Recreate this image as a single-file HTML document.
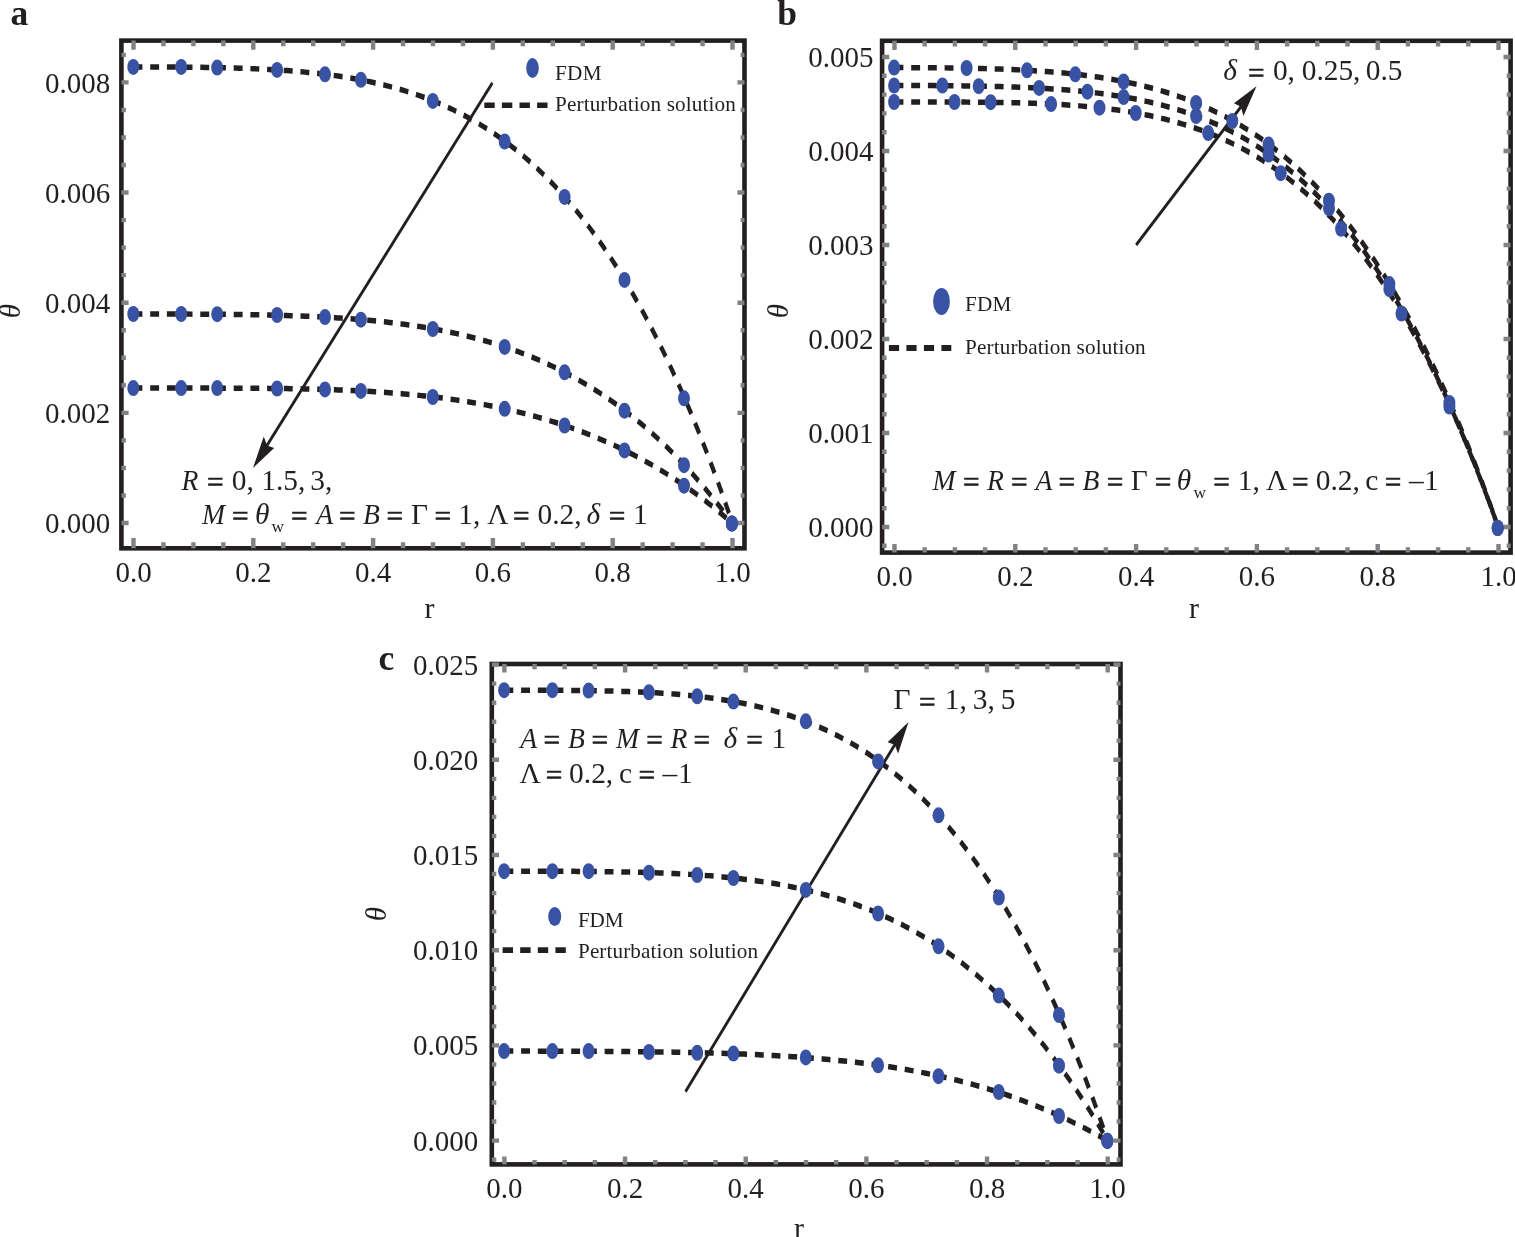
<!DOCTYPE html>
<html lang="en">
<head>
<meta charset="utf-8">
<title>Figure</title>
<style>
html,body{margin:0;padding:0;background:#fff;}
body{width:1515px;height:1237px;overflow:hidden;}
svg{display:block;}
svg text{font-family:'Liberation Serif', serif;fill:#231f20;white-space:pre;}
</style>
</head>
<body>
<svg width="1515" height="1237" viewBox="0 0 1515 1237">
<rect width="1515" height="1237" fill="#fff"/>
<rect x="121.4" y="40.6" width="623.10" height="507.70" fill="none" stroke="#231f20" stroke-width="4.6"/>
<g transform="scale(1 1.333)">
<path d="M133.50,50.19 L136.51,50.19 L139.52,50.19 L142.53,50.19 L145.54,50.20 L148.55,50.20 L151.56,50.21 L154.57,50.21 L157.58,50.22 L160.59,50.23 L163.60,50.24 L166.61,50.26 L169.62,50.27 L172.63,50.28 L175.64,50.30 L178.65,50.32 L181.66,50.34 L184.67,50.36 L187.68,50.38 L190.69,50.41 L193.70,50.44 L196.71,50.46 L199.72,50.50 L202.73,50.53 L205.74,50.56 L208.75,50.60 L211.76,50.64 L214.77,50.69 L217.78,50.73 L220.79,50.78 L223.80,50.84 L226.81,50.89 L229.82,50.95 L232.83,51.02 L235.84,51.08 L238.85,51.15 L241.86,51.23 L244.87,51.31 L247.88,51.39 L250.89,51.48 L253.90,51.57 L256.91,51.67 L259.92,51.77 L262.93,51.88 L265.94,52.00 L268.95,52.12 L271.96,52.24 L274.97,52.37 L277.98,52.51 L280.99,52.66 L284.00,52.81 L287.01,52.97 L290.02,53.14 L293.03,53.31 L296.04,53.50 L299.05,53.69 L302.06,53.89 L305.07,54.10 L308.08,54.32 L311.09,54.54 L314.10,54.78 L317.11,55.03 L320.12,55.28 L323.13,55.55 L326.14,55.83 L329.15,56.12 L332.16,56.42 L335.17,56.73 L338.18,57.06 L341.19,57.40 L344.20,57.75 L347.21,58.11 L350.22,58.49 L353.23,58.88 L356.24,59.28 L359.25,59.70 L362.26,60.14 L365.27,60.59 L368.28,61.06 L371.29,61.54 L374.30,62.04 L377.31,62.55 L380.32,63.08 L383.33,63.63 L386.34,64.20 L389.35,64.79 L392.36,65.39 L395.37,66.02 L398.38,66.66 L401.39,67.33 L404.40,68.01 L407.41,68.72 L410.42,69.45 L413.43,70.20 L416.44,70.97 L419.45,71.77 L422.46,72.58 L425.47,73.43 L428.48,74.29 L431.49,75.18 L434.51,76.10 L437.52,77.04 L440.53,78.01 L443.54,79.01 L446.55,80.03 L449.56,81.08 L452.57,82.16 L455.58,83.27 L458.59,84.40 L461.60,85.57 L464.61,86.77 L467.62,88.00 L470.63,89.25 L473.64,90.55 L476.65,91.87 L479.66,93.23 L482.67,94.62 L485.68,96.04 L488.69,97.50 L491.70,99.00 L494.71,100.53 L497.72,102.10 L500.73,103.70 L503.74,105.35 L506.75,107.03 L509.76,108.75 L512.77,110.51 L515.78,112.31 L518.79,114.15 L521.80,116.03 L524.81,117.95 L527.82,119.92 L530.83,121.93 L533.84,123.98 L536.85,126.08 L539.86,128.23 L542.87,130.42 L545.88,132.65 L548.89,134.94 L551.90,137.27 L554.91,139.65 L557.92,142.08 L560.93,144.56 L563.94,147.09 L566.95,149.67 L569.96,152.31 L572.97,154.99 L575.98,157.73 L578.99,160.53 L582.00,163.37 L585.01,166.28 L588.02,169.24 L591.03,172.26 L594.04,175.33 L597.05,178.47 L600.06,181.66 L603.07,184.91 L606.08,188.23 L609.09,191.60 L612.10,195.04 L615.11,198.54 L618.12,202.11 L621.13,205.74 L624.14,209.43 L627.15,213.19 L630.16,217.02 L633.17,220.91 L636.18,224.88 L639.19,228.91 L642.20,233.01 L645.21,237.18 L648.22,241.43 L651.23,245.75 L654.24,250.14 L657.25,254.60 L660.26,259.14 L663.27,263.76 L666.28,268.45 L669.29,273.22 L672.30,278.06 L675.31,282.99 L678.32,287.99 L681.33,293.08 L684.34,298.25 L687.35,303.50 L690.36,308.83 L693.37,314.25 L696.38,319.75 L699.39,325.34 L702.40,331.02 L705.41,336.78 L708.42,342.63 L711.43,348.57 L714.44,354.60 L717.45,360.72 L720.46,366.93 L723.47,373.24 L726.48,379.64 L729.49,386.13 L732.50,392.72" fill="none" stroke="#231f20" stroke-width="4.12" stroke-dasharray="8.9 7.8" stroke-dashoffset="0"/>
<path d="M133.50,235.56 L136.51,235.56 L139.52,235.56 L142.53,235.56 L145.54,235.56 L148.55,235.56 L151.56,235.57 L154.57,235.57 L157.58,235.57 L160.59,235.58 L163.60,235.58 L166.61,235.59 L169.62,235.59 L172.63,235.60 L175.64,235.60 L178.65,235.61 L181.66,235.62 L184.67,235.63 L187.68,235.64 L190.69,235.65 L193.70,235.66 L196.71,235.67 L199.72,235.68 L202.73,235.69 L205.74,235.71 L208.75,235.72 L211.76,235.74 L214.77,235.76 L217.78,235.78 L220.79,235.80 L223.80,235.82 L226.81,235.84 L229.82,235.87 L232.83,235.89 L235.84,235.92 L238.85,235.95 L241.86,235.98 L244.87,236.01 L247.88,236.05 L250.89,236.09 L253.90,236.12 L256.91,236.16 L259.92,236.21 L262.93,236.25 L265.94,236.30 L268.95,236.35 L271.96,236.41 L274.97,236.46 L277.98,236.52 L280.99,236.58 L284.00,236.65 L287.01,236.72 L290.02,236.79 L293.03,236.86 L296.04,236.94 L299.05,237.02 L302.06,237.11 L305.07,237.20 L308.08,237.29 L311.09,237.39 L314.10,237.49 L317.11,237.60 L320.12,237.71 L323.13,237.82 L326.14,237.94 L329.15,238.07 L332.16,238.20 L335.17,238.34 L338.18,238.48 L341.19,238.62 L344.20,238.78 L347.21,238.93 L350.22,239.10 L353.23,239.27 L356.24,239.45 L359.25,239.63 L362.26,239.82 L365.27,240.02 L368.28,240.22 L371.29,240.43 L374.30,240.65 L377.31,240.88 L380.32,241.11 L383.33,241.35 L386.34,241.60 L389.35,241.86 L392.36,242.13 L395.37,242.41 L398.38,242.69 L401.39,242.99 L404.40,243.29 L407.41,243.60 L410.42,243.92 L413.43,244.26 L416.44,244.60 L419.45,244.95 L422.46,245.32 L425.47,245.69 L428.48,246.08 L431.49,246.47 L434.51,246.88 L437.52,247.30 L440.53,247.74 L443.54,248.18 L446.55,248.64 L449.56,249.11 L452.57,249.59 L455.58,250.09 L458.59,250.60 L461.60,251.12 L464.61,251.66 L467.62,252.21 L470.63,252.77 L473.64,253.36 L476.65,253.95 L479.66,254.56 L482.67,255.19 L485.68,255.83 L488.69,256.49 L491.70,257.16 L494.71,257.86 L497.72,258.56 L500.73,259.29 L503.74,260.03 L506.75,260.80 L509.76,261.57 L512.77,262.37 L515.78,263.19 L518.79,264.02 L521.80,264.88 L524.81,265.75 L527.82,266.65 L530.83,267.56 L533.84,268.50 L536.85,269.45 L539.86,270.43 L542.87,271.43 L545.88,272.45 L548.89,273.49 L551.90,274.55 L554.91,275.64 L557.92,276.75 L560.93,277.88 L563.94,279.04 L566.95,280.22 L569.96,281.43 L572.97,282.66 L575.98,283.91 L578.99,285.20 L582.00,286.50 L585.01,287.84 L588.02,289.19 L591.03,290.58 L594.04,291.99 L597.05,293.44 L600.06,294.90 L603.07,296.40 L606.08,297.93 L609.09,299.48 L612.10,301.07 L615.11,302.68 L618.12,304.32 L621.13,306.00 L624.14,307.70 L627.15,309.44 L630.16,311.20 L633.17,313.00 L636.18,314.83 L639.19,316.70 L642.20,318.59 L645.21,320.53 L648.22,322.49 L651.23,324.49 L654.24,326.52 L657.25,328.59 L660.26,330.69 L663.27,332.83 L666.28,335.00 L669.29,337.21 L672.30,339.46 L675.31,341.75 L678.32,344.07 L681.33,346.43 L684.34,348.83 L687.35,351.26 L690.36,353.74 L693.37,356.25 L696.38,358.81 L699.39,361.41 L702.40,364.04 L705.41,366.72 L708.42,369.44 L711.43,372.20 L714.44,375.00 L717.45,377.85 L720.46,380.73 L723.47,383.67 L726.48,386.64 L729.49,389.66 L732.50,392.72" fill="none" stroke="#231f20" stroke-width="4.12" stroke-dasharray="8.9 7.8" stroke-dashoffset="0"/>
<path d="M133.50,291.15 L136.51,291.15 L139.52,291.15 L142.53,291.15 L145.54,291.15 L148.55,291.15 L151.56,291.15 L154.57,291.15 L157.58,291.15 L160.59,291.14 L163.60,291.14 L166.61,291.14 L169.62,291.14 L172.63,291.14 L175.64,291.14 L178.65,291.14 L181.66,291.14 L184.67,291.14 L187.68,291.14 L190.69,291.14 L193.70,291.14 L196.71,291.14 L199.72,291.14 L202.73,291.14 L205.74,291.15 L208.75,291.15 L211.76,291.15 L214.77,291.15 L217.78,291.16 L220.79,291.16 L223.80,291.17 L226.81,291.17 L229.82,291.18 L232.83,291.19 L235.84,291.19 L238.85,291.20 L241.86,291.21 L244.87,291.23 L247.88,291.24 L250.89,291.25 L253.90,291.27 L256.91,291.28 L259.92,291.30 L262.93,291.32 L265.94,291.34 L268.95,291.36 L271.96,291.38 L274.97,291.41 L277.98,291.44 L280.99,291.47 L284.00,291.50 L287.01,291.53 L290.02,291.57 L293.03,291.60 L296.04,291.64 L299.05,291.69 L302.06,291.73 L305.07,291.78 L308.08,291.83 L311.09,291.88 L314.10,291.94 L317.11,292.00 L320.12,292.06 L323.13,292.13 L326.14,292.20 L329.15,292.27 L332.16,292.35 L335.17,292.43 L338.18,292.51 L341.19,292.60 L344.20,292.69 L347.21,292.78 L350.22,292.88 L353.23,292.99 L356.24,293.09 L359.25,293.21 L362.26,293.32 L365.27,293.45 L368.28,293.57 L371.29,293.70 L374.30,293.84 L377.31,293.98 L380.32,294.13 L383.33,294.29 L386.34,294.44 L389.35,294.61 L392.36,294.78 L395.37,294.96 L398.38,295.14 L401.39,295.33 L404.40,295.52 L407.41,295.73 L410.42,295.93 L413.43,296.15 L416.44,296.37 L419.45,296.60 L422.46,296.84 L425.47,297.08 L428.48,297.34 L431.49,297.60 L434.51,297.86 L437.52,298.14 L440.53,298.42 L443.54,298.71 L446.55,299.01 L449.56,299.32 L452.57,299.64 L455.58,299.97 L458.59,300.30 L461.60,300.65 L464.61,301.00 L467.62,301.37 L470.63,301.74 L473.64,302.12 L476.65,302.51 L479.66,302.92 L482.67,303.33 L485.68,303.75 L488.69,304.19 L491.70,304.63 L494.71,305.09 L497.72,305.56 L500.73,306.04 L503.74,306.53 L506.75,307.03 L509.76,307.54 L512.77,308.07 L515.78,308.61 L518.79,309.16 L521.80,309.72 L524.81,310.29 L527.82,310.88 L530.83,311.48 L533.84,312.10 L536.85,312.73 L539.86,313.37 L542.87,314.02 L545.88,314.69 L548.89,315.38 L551.90,316.07 L554.91,316.79 L557.92,317.51 L560.93,318.26 L563.94,319.01 L566.95,319.78 L569.96,320.57 L572.97,321.38 L575.98,322.20 L578.99,323.03 L582.00,323.89 L585.01,324.75 L588.02,325.64 L591.03,326.54 L594.04,327.46 L597.05,328.40 L600.06,329.36 L603.07,330.33 L606.08,331.32 L609.09,332.33 L612.10,333.36 L615.11,334.40 L618.12,335.47 L621.13,336.55 L624.14,337.66 L627.15,338.78 L630.16,339.93 L633.17,341.09 L636.18,342.28 L639.19,343.48 L642.20,344.71 L645.21,345.96 L648.22,347.23 L651.23,348.52 L654.24,349.83 L657.25,351.17 L660.26,352.53 L663.27,353.91 L666.28,355.31 L669.29,356.74 L672.30,358.19 L675.31,359.67 L678.32,361.17 L681.33,362.70 L684.34,364.25 L687.35,365.82 L690.36,367.42 L693.37,369.05 L696.38,370.70 L699.39,372.38 L702.40,374.09 L705.41,375.83 L708.42,377.59 L711.43,379.38 L714.44,381.20 L717.45,383.04 L720.46,384.92 L723.47,386.83 L726.48,388.76 L729.49,390.73 L732.50,392.72" fill="none" stroke="#231f20" stroke-width="4.12" stroke-dasharray="8.9 7.8" stroke-dashoffset="0"/>
</g>
<path d="M163.45,40.6 v5.6 M163.45,548.3 v-6.0 M193.40,40.6 v5.6 M193.40,548.3 v-6.0 M223.35,40.6 v5.6 M223.35,548.3 v-6.0 M283.25,40.6 v5.6 M283.25,548.3 v-6.0 M313.20,40.6 v5.6 M313.20,548.3 v-6.0 M343.15,40.6 v5.6 M343.15,548.3 v-6.0 M403.05,40.6 v5.6 M403.05,548.3 v-6.0 M433.00,40.6 v5.6 M433.00,548.3 v-6.0 M462.95,40.6 v5.6 M462.95,548.3 v-6.0 M522.85,40.6 v5.6 M522.85,548.3 v-6.0 M552.80,40.6 v5.6 M552.80,548.3 v-6.0 M582.75,40.6 v5.6 M582.75,548.3 v-6.0 M642.65,40.6 v5.6 M642.65,548.3 v-6.0 M672.60,40.6 v5.6 M672.60,548.3 v-6.0 M702.55,40.6 v5.6 M702.55,548.3 v-6.0 M133.50,40.6 v9.2 M133.50,548.3 v-10.2 M253.30,40.6 v9.2 M253.30,548.3 v-10.2 M373.10,40.6 v9.2 M373.10,548.3 v-10.2 M492.90,40.6 v9.2 M492.90,548.3 v-10.2 M612.70,40.6 v9.2 M612.70,548.3 v-10.2 M732.50,40.6 v9.2 M732.50,548.3 v-10.2 M121.4,495.46 h4.5 M744.5,495.46 h-3.9 M121.4,467.93 h4.5 M744.5,467.93 h-3.9 M121.4,440.39 h4.5 M744.5,440.39 h-3.9 M121.4,385.31 h4.5 M744.5,385.31 h-3.9 M121.4,357.77 h4.5 M744.5,357.77 h-3.9 M121.4,330.24 h4.5 M744.5,330.24 h-3.9 M121.4,275.16 h4.5 M744.5,275.16 h-3.9 M121.4,247.62 h4.5 M744.5,247.62 h-3.9 M121.4,220.09 h4.5 M744.5,220.09 h-3.9 M121.4,165.01 h4.5 M744.5,165.01 h-3.9 M121.4,137.47 h4.5 M744.5,137.47 h-3.9 M121.4,109.94 h4.5 M744.5,109.94 h-3.9 M121.4,54.86 h4.5 M744.5,54.86 h-3.9 M121.4,523.00 h7.2 M744.5,523.00 h-7.1 M121.4,412.85 h7.2 M744.5,412.85 h-7.1 M121.4,302.70 h7.2 M744.5,302.70 h-7.1 M121.4,192.55 h7.2 M744.5,192.55 h-7.1 M121.4,82.40 h7.2 M744.5,82.40 h-7.1" stroke="#808285" stroke-width="4.4" fill="none"/>
<path d="M484.3,105.2 H547.8" stroke="#231f20" stroke-width="5.6" stroke-dasharray="10.4 7.2" fill="none"/>
<g transform="scale(1 1.333)">
<line x1="492.40" y1="62.12" x2="266.40" y2="334.92" stroke="#231f20" stroke-width="2.6"/>
<path d="M253.00,351.09 L274.15,336.14 L267.04,334.15 L263.75,327.53 Z" fill="#231f20"/>
<circle cx="133.3" cy="50.19" r="6.0" fill="#3953a4"/>
<circle cx="181.2" cy="50.19" r="6.0" fill="#3953a4"/>
<circle cx="217.2" cy="50.71" r="6.0" fill="#3953a4"/>
<circle cx="277.1" cy="52.44" r="6.0" fill="#3953a4"/>
<circle cx="325.0" cy="55.74" r="6.0" fill="#3953a4"/>
<circle cx="360.9" cy="59.86" r="6.0" fill="#3953a4"/>
<circle cx="432.8" cy="75.69" r="6.0" fill="#3953a4"/>
<circle cx="504.7" cy="106.15" r="6.0" fill="#3953a4"/>
<circle cx="564.6" cy="147.71" r="6.0" fill="#3953a4"/>
<circle cx="624.5" cy="209.98" r="6.0" fill="#3953a4"/>
<circle cx="684.0" cy="298.80" r="6.0" fill="#3953a4"/>
<circle cx="731.9" cy="392.72" r="6.0" fill="#3953a4"/>
<circle cx="133.3" cy="235.56" r="6.0" fill="#3953a4"/>
<circle cx="181.2" cy="235.56" r="6.0" fill="#3953a4"/>
<circle cx="217.2" cy="235.71" r="6.0" fill="#3953a4"/>
<circle cx="277.1" cy="236.31" r="6.0" fill="#3953a4"/>
<circle cx="325.0" cy="237.88" r="6.0" fill="#3953a4"/>
<circle cx="360.9" cy="239.83" r="6.0" fill="#3953a4"/>
<circle cx="432.8" cy="246.81" r="6.0" fill="#3953a4"/>
<circle cx="504.7" cy="260.24" r="6.0" fill="#3953a4"/>
<circle cx="564.6" cy="279.29" r="6.0" fill="#3953a4"/>
<circle cx="624.5" cy="308.10" r="6.0" fill="#3953a4"/>
<circle cx="684.0" cy="348.99" r="6.0" fill="#3953a4"/>
<circle cx="731.9" cy="392.72" r="6.0" fill="#3953a4"/>
<circle cx="133.3" cy="291.15" r="6.0" fill="#3953a4"/>
<circle cx="181.2" cy="291.15" r="6.0" fill="#3953a4"/>
<circle cx="217.2" cy="291.15" r="6.0" fill="#3953a4"/>
<circle cx="277.1" cy="291.45" r="6.0" fill="#3953a4"/>
<circle cx="325.0" cy="292.12" r="6.0" fill="#3953a4"/>
<circle cx="360.9" cy="293.25" r="6.0" fill="#3953a4"/>
<circle cx="432.8" cy="297.82" r="6.0" fill="#3953a4"/>
<circle cx="504.7" cy="306.68" r="6.0" fill="#3953a4"/>
<circle cx="564.6" cy="319.20" r="6.0" fill="#3953a4"/>
<circle cx="624.5" cy="337.88" r="6.0" fill="#3953a4"/>
<circle cx="684.0" cy="364.37" r="6.0" fill="#3953a4"/>
<circle cx="731.9" cy="392.72" r="6.0" fill="#3953a4"/>
</g>
<ellipse cx="532.5" cy="68" rx="6.3" ry="10" fill="#3953a4"/>
<text x="555.0" y="80.2" font-size="21.2" text-anchor="start" textLength="46.6">FDM</text>
<text x="555.0" y="110.9" font-size="21.2" text-anchor="start" textLength="180.8">Perturbation solution</text>
<text x="10.6" y="25.1" font-size="35.5" text-anchor="start" font-weight="bold">a</text>
<text x="110.3" y="533.2" font-size="29.0" text-anchor="end" >0.000</text>
<text x="110.3" y="423.1" font-size="29.0" text-anchor="end" >0.002</text>
<text x="110.3" y="312.9" font-size="29.0" text-anchor="end" >0.004</text>
<text x="110.3" y="202.8" font-size="29.0" text-anchor="end" >0.006</text>
<text x="110.3" y="92.6" font-size="29.0" text-anchor="end" >0.008</text>
<text x="133.5" y="581.7" font-size="29.0" text-anchor="middle" >0.0</text>
<text x="253.3" y="581.7" font-size="29.0" text-anchor="middle" >0.2</text>
<text x="373.1" y="581.7" font-size="29.0" text-anchor="middle" >0.4</text>
<text x="492.9" y="581.7" font-size="29.0" text-anchor="middle" >0.6</text>
<text x="612.7" y="581.7" font-size="29.0" text-anchor="middle" >0.8</text>
<text x="732.5" y="581.7" font-size="29.0" text-anchor="middle" >1.0</text>
<text x="429.5" y="617.9" font-size="30" text-anchor="middle" >r</text>
<text transform="translate(20,311) rotate(-90)" font-size="29" text-anchor="middle" font-style="italic">θ</text>
<text font-size="29.4"><tspan x="181.4" y="489.8" font-style="italic" textLength="16.88" lengthAdjust="spacingAndGlyphs">R</tspan><tspan x="206.9" y="492.3" stroke="#231f20" stroke-width="0.6">=</tspan><tspan x="231.8" y="489.8">0,</tspan><tspan x="261.3" y="489.8">1.5,</tspan><tspan x="310.2" y="489.8">3,</tspan></text>
<text font-size="29.4"><tspan x="202.0" y="523.8" font-style="italic" textLength="23.02" lengthAdjust="spacingAndGlyphs">M</tspan><tspan x="231.9" y="526.3" stroke="#231f20" stroke-width="0.6">=</tspan><tspan x="255.1" y="523.8" font-style="italic">θ</tspan><tspan x="271.4" y="531.7" font-size="17.4">w</tspan><tspan x="290.9" y="526.3" stroke="#231f20" stroke-width="0.6">=</tspan><tspan x="316.2" y="523.8" font-style="italic" textLength="16.88" lengthAdjust="spacingAndGlyphs">A</tspan><tspan x="338.9" y="526.3" stroke="#231f20" stroke-width="0.6">=</tspan><tspan x="362.9" y="523.8" font-style="italic" textLength="16.88" lengthAdjust="spacingAndGlyphs">B</tspan><tspan x="386.4" y="526.3" stroke="#231f20" stroke-width="0.6">=</tspan><tspan x="410.9" y="523.8">Γ</tspan><tspan x="434.5" y="526.3" stroke="#231f20" stroke-width="0.6">=</tspan><tspan x="458.3" y="523.8">1,</tspan><tspan x="487.3" y="523.8">Λ</tspan><tspan x="512.9" y="526.3" stroke="#231f20" stroke-width="0.6">=</tspan><tspan x="537.5" y="523.8">0.2,</tspan><tspan x="586.5" y="523.8" font-style="italic">δ</tspan><tspan x="608.8" y="526.3" stroke="#231f20" stroke-width="0.6">=</tspan><tspan x="632.9" y="523.8">1</tspan></text>
<rect x="882.1" y="40.8" width="628.50" height="511.80" fill="none" stroke="#231f20" stroke-width="4.6"/>
<g transform="scale(1 1.333)">
<path d="M894.50,50.71 L897.54,50.71 L900.57,50.72 L903.61,50.72 L906.64,50.72 L909.68,50.73 L912.71,50.74 L915.75,50.75 L918.78,50.76 L921.82,50.77 L924.85,50.78 L927.89,50.80 L930.92,50.81 L933.96,50.83 L936.99,50.85 L940.03,50.87 L943.06,50.90 L946.10,50.92 L949.13,50.95 L952.17,50.98 L955.20,51.01 L958.24,51.05 L961.27,51.08 L964.31,51.12 L967.34,51.17 L970.38,51.21 L973.41,51.26 L976.45,51.31 L979.48,51.36 L982.52,51.42 L985.56,51.48 L988.59,51.54 L991.63,51.61 L994.66,51.68 L997.70,51.76 L1000.73,51.84 L1003.77,51.92 L1006.80,52.01 L1009.84,52.10 L1012.87,52.20 L1015.91,52.31 L1018.94,52.42 L1021.98,52.53 L1025.01,52.65 L1028.05,52.77 L1031.08,52.91 L1034.12,53.04 L1037.15,53.19 L1040.19,53.34 L1043.22,53.50 L1046.26,53.66 L1049.29,53.84 L1052.33,54.02 L1055.36,54.21 L1058.40,54.40 L1061.43,54.61 L1064.47,54.82 L1067.51,55.05 L1070.54,55.28 L1073.58,55.52 L1076.61,55.77 L1079.65,56.04 L1082.68,56.31 L1085.72,56.59 L1088.75,56.89 L1091.79,57.19 L1094.82,57.51 L1097.86,57.84 L1100.89,58.18 L1103.93,58.54 L1106.96,58.91 L1110.00,59.29 L1113.03,59.68 L1116.07,60.09 L1119.10,60.52 L1122.14,60.96 L1125.17,61.41 L1128.21,61.88 L1131.24,62.36 L1134.28,62.87 L1137.31,63.38 L1140.35,63.92 L1143.38,64.47 L1146.42,65.04 L1149.45,65.63 L1152.49,66.24 L1155.53,66.87 L1158.56,67.51 L1161.60,68.18 L1164.63,68.86 L1167.67,69.57 L1170.70,70.30 L1173.74,71.05 L1176.77,71.82 L1179.81,72.62 L1182.84,73.43 L1185.88,74.28 L1188.91,75.14 L1191.95,76.03 L1194.98,76.95 L1198.02,77.89 L1201.05,78.85 L1204.09,79.84 L1207.12,80.86 L1210.16,81.91 L1213.19,82.98 L1216.23,84.09 L1219.26,85.22 L1222.30,86.38 L1225.33,87.57 L1228.37,88.79 L1231.40,90.04 L1234.44,91.33 L1237.47,92.65 L1240.51,93.99 L1243.55,95.38 L1246.58,96.79 L1249.62,98.24 L1252.65,99.73 L1255.69,101.25 L1258.72,102.80 L1261.76,104.40 L1264.79,106.03 L1267.83,107.70 L1270.86,109.40 L1273.90,111.15 L1276.93,112.93 L1279.97,114.76 L1283.00,116.62 L1286.04,118.53 L1289.07,120.48 L1292.11,122.47 L1295.14,124.51 L1298.18,126.59 L1301.21,128.71 L1304.25,130.88 L1307.28,133.09 L1310.32,135.35 L1313.35,137.66 L1316.39,140.02 L1319.42,142.42 L1322.46,144.88 L1325.49,147.38 L1328.53,149.93 L1331.57,152.54 L1334.60,155.19 L1337.64,157.90 L1340.67,160.67 L1343.71,163.48 L1346.74,166.35 L1349.78,169.28 L1352.81,172.26 L1355.85,175.30 L1358.88,178.40 L1361.92,181.55 L1364.95,184.77 L1367.99,188.04 L1371.02,191.37 L1374.06,194.77 L1377.09,198.23 L1380.13,201.74 L1383.16,205.33 L1386.20,208.97 L1389.23,212.68 L1392.27,216.46 L1395.30,220.31 L1398.34,224.22 L1401.37,228.19 L1404.41,232.24 L1407.44,236.36 L1410.48,240.54 L1413.52,244.80 L1416.55,249.13 L1419.59,253.53 L1422.62,258.01 L1425.66,262.56 L1428.69,267.18 L1431.73,271.88 L1434.76,276.66 L1437.80,281.51 L1440.83,286.44 L1443.87,291.45 L1446.90,296.54 L1449.94,301.72 L1452.97,306.97 L1456.01,312.30 L1459.04,317.72 L1462.08,323.22 L1465.11,328.81 L1468.15,334.48 L1471.18,340.24 L1474.22,346.09 L1477.25,352.02 L1480.29,358.05 L1483.32,364.16 L1486.36,370.36 L1489.39,376.66 L1492.43,383.04 L1495.46,389.52 L1498.50,396.10" fill="none" stroke="#231f20" stroke-width="4.12" stroke-dasharray="8.9 7.8" stroke-dashoffset="0"/>
<path d="M894.50,64.14 L897.54,64.14 L900.57,64.14 L903.61,64.15 L906.64,64.15 L909.68,64.15 L912.71,64.16 L915.75,64.16 L918.78,64.17 L921.82,64.18 L924.85,64.19 L927.89,64.20 L930.92,64.21 L933.96,64.22 L936.99,64.24 L940.03,64.25 L943.06,64.27 L946.10,64.29 L949.13,64.31 L952.17,64.33 L955.20,64.35 L958.24,64.38 L961.27,64.40 L964.31,64.43 L967.34,64.46 L970.38,64.49 L973.41,64.53 L976.45,64.57 L979.48,64.61 L982.52,64.65 L985.56,64.69 L988.59,64.74 L991.63,64.79 L994.66,64.85 L997.70,64.90 L1000.73,64.96 L1003.77,65.03 L1006.80,65.10 L1009.84,65.17 L1012.87,65.24 L1015.91,65.32 L1018.94,65.41 L1021.98,65.50 L1025.01,65.59 L1028.05,65.69 L1031.08,65.79 L1034.12,65.90 L1037.15,66.02 L1040.19,66.14 L1043.22,66.27 L1046.26,66.40 L1049.29,66.54 L1052.33,66.68 L1055.36,66.84 L1058.40,67.00 L1061.43,67.16 L1064.47,67.34 L1067.51,67.52 L1070.54,67.71 L1073.58,67.91 L1076.61,68.12 L1079.65,68.34 L1082.68,68.57 L1085.72,68.80 L1088.75,69.05 L1091.79,69.31 L1094.82,69.57 L1097.86,69.85 L1100.89,70.14 L1103.93,70.44 L1106.96,70.75 L1110.00,71.08 L1113.03,71.41 L1116.07,71.76 L1119.10,72.12 L1122.14,72.50 L1125.17,72.89 L1128.21,73.30 L1131.24,73.72 L1134.28,74.15 L1137.31,74.60 L1140.35,75.07 L1143.38,75.55 L1146.42,76.05 L1149.45,76.56 L1152.49,77.09 L1155.53,77.65 L1158.56,78.22 L1161.60,78.80 L1164.63,79.41 L1167.67,80.04 L1170.70,80.69 L1173.74,81.35 L1176.77,82.04 L1179.81,82.75 L1182.84,83.49 L1185.88,84.24 L1188.91,85.02 L1191.95,85.82 L1194.98,86.65 L1198.02,87.50 L1201.05,88.38 L1204.09,89.28 L1207.12,90.21 L1210.16,91.16 L1213.19,92.14 L1216.23,93.15 L1219.26,94.19 L1222.30,95.25 L1225.33,96.35 L1228.37,97.48 L1231.40,98.63 L1234.44,99.82 L1237.47,101.04 L1240.51,102.29 L1243.55,103.58 L1246.58,104.90 L1249.62,106.25 L1252.65,107.64 L1255.69,109.06 L1258.72,110.52 L1261.76,112.01 L1264.79,113.54 L1267.83,115.12 L1270.86,116.72 L1273.90,118.37 L1276.93,120.06 L1279.97,121.79 L1283.00,123.56 L1286.04,125.37 L1289.07,127.23 L1292.11,129.12 L1295.14,131.07 L1298.18,133.05 L1301.21,135.08 L1304.25,137.16 L1307.28,139.28 L1310.32,141.45 L1313.35,143.67 L1316.39,145.94 L1319.42,148.25 L1322.46,150.62 L1325.49,153.04 L1328.53,155.51 L1331.57,158.03 L1334.60,160.60 L1337.64,163.23 L1340.67,165.91 L1343.71,168.64 L1346.74,171.44 L1349.78,174.28 L1352.81,177.19 L1355.85,180.15 L1358.88,183.17 L1361.92,186.25 L1364.95,189.39 L1367.99,192.59 L1371.02,195.85 L1374.06,199.17 L1377.09,202.56 L1380.13,206.01 L1383.16,209.52 L1386.20,213.09 L1389.23,216.73 L1392.27,220.44 L1395.30,224.22 L1398.34,228.06 L1401.37,231.97 L1404.41,235.94 L1407.44,239.99 L1410.48,244.10 L1413.52,248.29 L1416.55,252.55 L1419.59,256.87 L1422.62,261.27 L1425.66,265.75 L1428.69,270.29 L1431.73,274.91 L1434.76,279.60 L1437.80,284.37 L1440.83,289.21 L1443.87,294.13 L1446.90,299.13 L1449.94,304.20 L1452.97,309.35 L1456.01,314.58 L1459.04,319.88 L1462.08,325.26 L1465.11,330.72 L1468.15,336.27 L1471.18,341.89 L1474.22,347.59 L1477.25,353.37 L1480.29,359.23 L1483.32,365.17 L1486.36,371.19 L1489.39,377.30 L1492.43,383.48 L1495.46,389.75 L1498.50,396.10" fill="none" stroke="#231f20" stroke-width="4.12" stroke-dasharray="8.9 7.8" stroke-dashoffset="0"/>
<path d="M894.50,76.52 L897.54,76.52 L900.57,76.52 L903.61,76.52 L906.64,76.52 L909.68,76.52 L912.71,76.52 L915.75,76.52 L918.78,76.52 L921.82,76.52 L924.85,76.53 L927.89,76.53 L930.92,76.53 L933.96,76.53 L936.99,76.54 L940.03,76.54 L943.06,76.54 L946.10,76.55 L949.13,76.56 L952.17,76.56 L955.20,76.57 L958.24,76.58 L961.27,76.59 L964.31,76.60 L967.34,76.61 L970.38,76.63 L973.41,76.64 L976.45,76.66 L979.48,76.68 L982.52,76.70 L985.56,76.72 L988.59,76.75 L991.63,76.78 L994.66,76.81 L997.70,76.84 L1000.73,76.88 L1003.77,76.91 L1006.80,76.96 L1009.84,77.00 L1012.87,77.05 L1015.91,77.10 L1018.94,77.16 L1021.98,77.22 L1025.01,77.28 L1028.05,77.35 L1031.08,77.43 L1034.12,77.50 L1037.15,77.59 L1040.19,77.68 L1043.22,77.77 L1046.26,77.87 L1049.29,77.98 L1052.33,78.09 L1055.36,78.21 L1058.40,78.34 L1061.43,78.47 L1064.47,78.61 L1067.51,78.76 L1070.54,78.91 L1073.58,79.08 L1076.61,79.25 L1079.65,79.43 L1082.68,79.62 L1085.72,79.82 L1088.75,80.03 L1091.79,80.25 L1094.82,80.47 L1097.86,80.71 L1100.89,80.96 L1103.93,81.22 L1106.96,81.50 L1110.00,81.78 L1113.03,82.08 L1116.07,82.39 L1119.10,82.71 L1122.14,83.04 L1125.17,83.39 L1128.21,83.75 L1131.24,84.13 L1134.28,84.52 L1137.31,84.93 L1140.35,85.35 L1143.38,85.79 L1146.42,86.24 L1149.45,86.71 L1152.49,87.20 L1155.53,87.70 L1158.56,88.22 L1161.60,88.77 L1164.63,89.32 L1167.67,89.90 L1170.70,90.50 L1173.74,91.12 L1176.77,91.76 L1179.81,92.42 L1182.84,93.10 L1185.88,93.80 L1188.91,94.53 L1191.95,95.28 L1194.98,96.05 L1198.02,96.84 L1201.05,97.66 L1204.09,98.51 L1207.12,99.37 L1210.16,100.27 L1213.19,101.19 L1216.23,102.14 L1219.26,103.12 L1222.30,104.12 L1225.33,105.15 L1228.37,106.21 L1231.40,107.30 L1234.44,108.42 L1237.47,109.57 L1240.51,110.75 L1243.55,111.97 L1246.58,113.21 L1249.62,114.49 L1252.65,115.80 L1255.69,117.15 L1258.72,118.53 L1261.76,119.94 L1264.79,121.40 L1267.83,122.88 L1270.86,124.41 L1273.90,125.97 L1276.93,127.57 L1279.97,129.21 L1283.00,130.89 L1286.04,132.61 L1289.07,134.37 L1292.11,136.17 L1295.14,138.01 L1298.18,139.90 L1301.21,141.83 L1304.25,143.80 L1307.28,145.82 L1310.32,147.88 L1313.35,149.99 L1316.39,152.15 L1319.42,154.35 L1322.46,156.61 L1325.49,158.91 L1328.53,161.26 L1331.57,163.66 L1334.60,166.11 L1337.64,168.61 L1340.67,171.17 L1343.71,173.78 L1346.74,176.44 L1349.78,179.16 L1352.81,181.94 L1355.85,184.76 L1358.88,187.65 L1361.92,190.60 L1364.95,193.60 L1367.99,196.66 L1371.02,199.78 L1374.06,202.97 L1377.09,206.21 L1380.13,209.52 L1383.16,212.89 L1386.20,216.32 L1389.23,219.82 L1392.27,223.39 L1395.30,227.02 L1398.34,230.72 L1401.37,234.48 L1404.41,238.32 L1407.44,242.23 L1410.48,246.20 L1413.52,250.25 L1416.55,254.37 L1419.59,258.56 L1422.62,262.83 L1425.66,267.17 L1428.69,271.59 L1431.73,276.08 L1434.76,280.65 L1437.80,285.30 L1440.83,290.03 L1443.87,294.84 L1446.90,299.73 L1449.94,304.70 L1452.97,309.75 L1456.01,314.89 L1459.04,320.11 L1462.08,325.42 L1465.11,330.81 L1468.15,336.29 L1471.18,341.86 L1474.22,347.52 L1477.25,353.27 L1480.29,359.11 L1483.32,365.04 L1486.36,371.06 L1489.39,377.18 L1492.43,383.39 L1495.46,389.70 L1498.50,396.10" fill="none" stroke="#231f20" stroke-width="4.12" stroke-dasharray="8.9 7.8" stroke-dashoffset="0"/>
</g>
<path d="M924.70,40.8 v5.6 M924.70,552.6 v-5.3 M954.90,40.8 v5.6 M954.90,552.6 v-5.3 M985.10,40.8 v5.6 M985.10,552.6 v-5.3 M1045.50,40.8 v5.6 M1045.50,552.6 v-5.3 M1075.70,40.8 v5.6 M1075.70,552.6 v-5.3 M1105.90,40.8 v5.6 M1105.90,552.6 v-5.3 M1166.30,40.8 v5.6 M1166.30,552.6 v-5.3 M1196.50,40.8 v5.6 M1196.50,552.6 v-5.3 M1226.70,40.8 v5.6 M1226.70,552.6 v-5.3 M1287.10,40.8 v5.6 M1287.10,552.6 v-5.3 M1317.30,40.8 v5.6 M1317.30,552.6 v-5.3 M1347.50,40.8 v5.6 M1347.50,552.6 v-5.3 M1407.90,40.8 v5.6 M1407.90,552.6 v-5.3 M1438.10,40.8 v5.6 M1438.10,552.6 v-5.3 M1468.30,40.8 v5.6 M1468.30,552.6 v-5.3 M894.50,40.8 v9.2 M894.50,552.6 v-8.7 M1015.30,40.8 v9.2 M1015.30,552.6 v-8.7 M1136.10,40.8 v9.2 M1136.10,552.6 v-8.7 M1256.90,40.8 v9.2 M1256.90,552.6 v-8.7 M1377.70,40.8 v9.2 M1377.70,552.6 v-8.7 M1498.50,40.8 v9.2 M1498.50,552.6 v-8.7 M882.1,545.80 h4.5 M1510.6,545.80 h-3.9 M882.1,508.20 h4.5 M1510.6,508.20 h-3.9 M882.1,489.40 h4.5 M1510.6,489.40 h-3.9 M882.1,470.60 h4.5 M1510.6,470.60 h-3.9 M882.1,451.80 h4.5 M1510.6,451.80 h-3.9 M882.1,414.20 h4.5 M1510.6,414.20 h-3.9 M882.1,395.40 h4.5 M1510.6,395.40 h-3.9 M882.1,376.60 h4.5 M1510.6,376.60 h-3.9 M882.1,357.80 h4.5 M1510.6,357.80 h-3.9 M882.1,320.20 h4.5 M1510.6,320.20 h-3.9 M882.1,301.40 h4.5 M1510.6,301.40 h-3.9 M882.1,282.60 h4.5 M1510.6,282.60 h-3.9 M882.1,263.80 h4.5 M1510.6,263.80 h-3.9 M882.1,226.20 h4.5 M1510.6,226.20 h-3.9 M882.1,207.40 h4.5 M1510.6,207.40 h-3.9 M882.1,188.60 h4.5 M1510.6,188.60 h-3.9 M882.1,169.80 h4.5 M1510.6,169.80 h-3.9 M882.1,132.20 h4.5 M1510.6,132.20 h-3.9 M882.1,113.40 h4.5 M1510.6,113.40 h-3.9 M882.1,94.60 h4.5 M1510.6,94.60 h-3.9 M882.1,75.80 h4.5 M1510.6,75.80 h-3.9 M882.1,527.00 h7.2 M1510.6,527.00 h-7.1 M882.1,433.00 h7.2 M1510.6,433.00 h-7.1 M882.1,339.00 h7.2 M1510.6,339.00 h-7.1 M882.1,245.00 h7.2 M1510.6,245.00 h-7.1 M882.1,151.00 h7.2 M1510.6,151.00 h-7.1 M882.1,57.00 h7.2 M1510.6,57.00 h-7.1" stroke="#808285" stroke-width="4.4" fill="none"/>
<path d="M888.9,348.1 H951.3" stroke="#231f20" stroke-width="6" stroke-dasharray="10.2 7.3" fill="none"/>
<g transform="scale(1 1.333)">
<line x1="1136.10" y1="183.80" x2="1241.57" y2="79.44" stroke="#231f20" stroke-width="2.6"/>
<path d="M1256.50,64.67 L1233.98,77.45 L1240.86,80.14 L1243.48,87.05 Z" fill="#231f20"/>
<circle cx="894.1" cy="50.71" r="6.0" fill="#3953a4"/>
<circle cx="966.6" cy="51.01" r="6.0" fill="#3953a4"/>
<circle cx="1027.0" cy="52.74" r="6.0" fill="#3953a4"/>
<circle cx="1075.3" cy="55.74" r="6.0" fill="#3953a4"/>
<circle cx="1123.6" cy="61.14" r="6.0" fill="#3953a4"/>
<circle cx="1196.1" cy="77.27" r="6.0" fill="#3953a4"/>
<circle cx="1232.3" cy="90.77" r="6.0" fill="#3953a4"/>
<circle cx="1268.6" cy="108.48" r="6.0" fill="#3953a4"/>
<circle cx="1329.0" cy="150.64" r="6.0" fill="#3953a4"/>
<circle cx="1389.4" cy="213.13" r="6.0" fill="#3953a4"/>
<circle cx="1449.4" cy="302.33" r="6.0" fill="#3953a4"/>
<circle cx="1497.7" cy="396.10" r="6.0" fill="#3953a4"/>
<circle cx="894.1" cy="64.14" r="6.0" fill="#3953a4"/>
<circle cx="942.4" cy="64.14" r="6.0" fill="#3953a4"/>
<circle cx="978.7" cy="64.67" r="6.0" fill="#3953a4"/>
<circle cx="1039.1" cy="65.94" r="6.0" fill="#3953a4"/>
<circle cx="1087.4" cy="68.79" r="6.0" fill="#3953a4"/>
<circle cx="1123.6" cy="72.84" r="6.0" fill="#3953a4"/>
<circle cx="1196.1" cy="87.02" r="6.0" fill="#3953a4"/>
<circle cx="1268.6" cy="115.98" r="6.0" fill="#3953a4"/>
<circle cx="1329.0" cy="156.26" r="6.0" fill="#3953a4"/>
<circle cx="1389.4" cy="216.95" r="6.0" fill="#3953a4"/>
<circle cx="1449.4" cy="304.95" r="6.0" fill="#3953a4"/>
<circle cx="1497.7" cy="396.10" r="6.0" fill="#3953a4"/>
<circle cx="894.1" cy="76.52" r="6.0" fill="#3953a4"/>
<circle cx="954.5" cy="76.52" r="6.0" fill="#3953a4"/>
<circle cx="990.7" cy="76.67" r="6.0" fill="#3953a4"/>
<circle cx="1051.1" cy="78.09" r="6.0" fill="#3953a4"/>
<circle cx="1099.5" cy="80.80" r="6.0" fill="#3953a4"/>
<circle cx="1135.7" cy="84.77" r="6.0" fill="#3953a4"/>
<circle cx="1208.2" cy="99.85" r="6.0" fill="#3953a4"/>
<circle cx="1280.7" cy="129.93" r="6.0" fill="#3953a4"/>
<circle cx="1341.1" cy="171.64" r="6.0" fill="#3953a4"/>
<circle cx="1401.5" cy="235.18" r="6.0" fill="#3953a4"/>
<circle cx="1497.7" cy="396.10" r="6.0" fill="#3953a4"/>
</g>
<ellipse cx="941.5" cy="301.4" rx="8.4" ry="13.5" fill="#3953a4"/>
<text x="965.1" y="311" font-size="21.2" text-anchor="start" textLength="46.2">FDM</text>
<text x="965.1" y="354.1" font-size="21.2" text-anchor="start" textLength="180.6">Perturbation solution</text>
<text x="777.2" y="25.1" font-size="35.5" text-anchor="start" font-weight="bold">b</text>
<text x="873.4" y="536.9" font-size="29.0" text-anchor="end" >0.000</text>
<text x="873.4" y="442.9" font-size="29.0" text-anchor="end" >0.001</text>
<text x="873.4" y="348.9" font-size="29.0" text-anchor="end" >0.002</text>
<text x="873.4" y="254.9" font-size="29.0" text-anchor="end" >0.003</text>
<text x="873.4" y="160.9" font-size="29.0" text-anchor="end" >0.004</text>
<text x="873.4" y="66.9" font-size="29.0" text-anchor="end" >0.005</text>
<text x="894.5" y="586" font-size="29.0" text-anchor="middle" >0.0</text>
<text x="1015.3" y="586" font-size="29.0" text-anchor="middle" >0.2</text>
<text x="1136.1" y="586" font-size="29.0" text-anchor="middle" >0.4</text>
<text x="1256.9" y="586" font-size="29.0" text-anchor="middle" >0.6</text>
<text x="1377.7" y="586" font-size="29.0" text-anchor="middle" >0.8</text>
<text x="1498.5" y="586" font-size="29.0" text-anchor="middle" >1.0</text>
<text x="1194" y="617.9" font-size="30" text-anchor="middle" >r</text>
<text transform="translate(787.8,311) rotate(-90)" font-size="29" text-anchor="middle" font-style="italic">θ</text>
<text font-size="29.4"><tspan x="1223.3" y="80.3" font-style="italic">δ</tspan><tspan x="1248.0" y="82.8" stroke="#231f20" stroke-width="0.6">=</tspan><tspan x="1272.9" y="80.3">0,</tspan><tspan x="1301.7" y="80.3">0.25,</tspan><tspan x="1365.7" y="80.3">0.5</tspan></text>
<text font-size="29.4"><tspan x="932.5" y="489.6" font-style="italic" textLength="23.02" lengthAdjust="spacingAndGlyphs">M</tspan><tspan x="963.0" y="492.1" stroke="#231f20" stroke-width="0.6">=</tspan><tspan x="987.0" y="489.6" font-style="italic" textLength="16.88" lengthAdjust="spacingAndGlyphs">R</tspan><tspan x="1011.1" y="492.1" stroke="#231f20" stroke-width="0.6">=</tspan><tspan x="1035.6" y="489.6" font-style="italic" textLength="16.88" lengthAdjust="spacingAndGlyphs">A</tspan><tspan x="1058.6" y="492.1" stroke="#231f20" stroke-width="0.6">=</tspan><tspan x="1082.6" y="489.6" font-style="italic" textLength="16.88" lengthAdjust="spacingAndGlyphs">B</tspan><tspan x="1106.7" y="492.1" stroke="#231f20" stroke-width="0.6">=</tspan><tspan x="1130.7" y="489.6">Γ</tspan><tspan x="1154.7" y="492.1" stroke="#231f20" stroke-width="0.6">=</tspan><tspan x="1176.8" y="489.6" font-style="italic">θ</tspan><tspan x="1193.6" y="497.5" font-size="17.4">w</tspan><tspan x="1213.2" y="492.1" stroke="#231f20" stroke-width="0.6">=</tspan><tspan x="1237.8" y="489.6">1,</tspan><tspan x="1266.0" y="489.6">Λ</tspan><tspan x="1292.0" y="492.1" stroke="#231f20" stroke-width="0.6">=</tspan><tspan x="1315.8" y="489.6">0.2,</tspan><tspan x="1365.3" y="489.6">c</tspan><tspan x="1384.7" y="492.1" stroke="#231f20" stroke-width="0.6">=</tspan><tspan x="1409.1" y="489.6">–</tspan><tspan x="1423.9" y="489.6">1</tspan></text>
<rect x="491.8" y="664.0" width="628.70" height="500.40" fill="none" stroke="#231f20" stroke-width="4.6"/>
<g transform="scale(1 1.333)">
<path d="M504.40,517.78 L507.43,517.78 L510.46,517.78 L513.49,517.78 L516.53,517.78 L519.56,517.79 L522.59,517.79 L525.62,517.79 L528.65,517.80 L531.68,517.80 L534.72,517.81 L537.75,517.81 L540.78,517.82 L543.81,517.83 L546.84,517.84 L549.87,517.85 L552.91,517.86 L555.94,517.87 L558.97,517.88 L562.00,517.90 L565.03,517.91 L568.06,517.93 L571.10,517.95 L574.13,517.97 L577.16,518.00 L580.19,518.02 L583.22,518.05 L586.25,518.08 L589.29,518.11 L592.32,518.14 L595.35,518.18 L598.38,518.22 L601.41,518.27 L604.44,518.31 L607.48,518.36 L610.51,518.41 L613.54,518.47 L616.57,518.53 L619.60,518.60 L622.63,518.67 L625.67,518.74 L628.70,518.82 L631.73,518.90 L634.76,518.99 L637.79,519.08 L640.82,519.18 L643.86,519.28 L646.89,519.39 L649.92,519.51 L652.95,519.63 L655.98,519.76 L659.01,519.90 L662.05,520.05 L665.08,520.20 L668.11,520.36 L671.14,520.52 L674.17,520.70 L677.20,520.88 L680.24,521.08 L683.27,521.28 L686.30,521.49 L689.33,521.71 L692.36,521.94 L695.39,522.19 L698.43,522.44 L701.46,522.70 L704.49,522.98 L707.52,523.26 L710.55,523.56 L713.58,523.87 L716.62,524.20 L719.65,524.53 L722.68,524.88 L725.71,525.25 L728.74,525.63 L731.77,526.02 L734.81,526.43 L737.84,526.85 L740.87,527.29 L743.90,527.74 L746.93,528.21 L749.96,528.70 L753.00,529.20 L756.03,529.73 L759.06,530.27 L762.09,530.82 L765.12,531.40 L768.15,532.00 L771.19,532.61 L774.22,533.25 L777.25,533.91 L780.28,534.58 L783.31,535.28 L786.34,536.00 L789.38,536.75 L792.41,537.51 L795.44,538.30 L798.47,539.12 L801.50,539.95 L804.53,540.81 L807.57,541.70 L810.60,542.61 L813.63,543.55 L816.66,544.52 L819.69,545.51 L822.72,546.53 L825.76,547.58 L828.79,548.65 L831.82,549.76 L834.85,550.89 L837.88,552.06 L840.91,553.26 L843.95,554.48 L846.98,555.74 L850.01,557.04 L853.04,558.36 L856.07,559.72 L859.10,561.11 L862.14,562.54 L865.17,564.00 L868.20,565.50 L871.23,567.03 L874.26,568.60 L877.29,570.21 L880.33,571.86 L883.36,573.54 L886.39,575.26 L889.42,577.03 L892.45,578.83 L895.48,580.68 L898.52,582.57 L901.55,584.50 L904.58,586.47 L907.61,588.49 L910.64,590.55 L913.67,592.65 L916.71,594.80 L919.74,597.00 L922.77,599.25 L925.80,601.54 L928.83,603.88 L931.86,606.27 L934.90,608.71 L937.93,611.20 L940.96,613.74 L943.99,616.33 L947.02,618.98 L950.05,621.67 L953.09,624.43 L956.12,627.23 L959.15,630.10 L962.18,633.01 L965.21,635.99 L968.24,639.02 L971.28,642.11 L974.31,645.27 L977.34,648.48 L980.37,651.75 L983.40,655.08 L986.43,658.48 L989.47,661.94 L992.50,665.46 L995.53,669.05 L998.56,672.70 L1001.59,676.42 L1004.62,680.21 L1007.66,684.07 L1010.69,687.99 L1013.72,691.99 L1016.75,696.05 L1019.78,700.19 L1022.81,704.40 L1025.85,708.69 L1028.88,713.05 L1031.91,717.48 L1034.94,721.99 L1037.97,726.58 L1041.00,731.25 L1044.04,735.99 L1047.07,740.82 L1050.10,745.73 L1053.13,750.72 L1056.16,755.79 L1059.19,760.95 L1062.23,766.19 L1065.26,771.52 L1068.29,776.94 L1071.32,782.44 L1074.35,788.04 L1077.38,793.72 L1080.42,799.50 L1083.45,805.37 L1086.48,811.33 L1089.51,817.39 L1092.54,823.55 L1095.57,829.80 L1098.61,836.15 L1101.64,842.61 L1104.67,849.16 L1107.70,855.81" fill="none" stroke="#231f20" stroke-width="4.12" stroke-dasharray="8.9 7.8" stroke-dashoffset="0"/>
<path d="M504.40,653.56 L507.43,653.56 L510.46,653.56 L513.49,653.56 L516.53,653.57 L519.56,653.57 L522.59,653.57 L525.62,653.57 L528.65,653.57 L531.68,653.58 L534.72,653.58 L537.75,653.59 L540.78,653.59 L543.81,653.60 L546.84,653.60 L549.87,653.61 L552.91,653.62 L555.94,653.62 L558.97,653.63 L562.00,653.64 L565.03,653.65 L568.06,653.66 L571.10,653.68 L574.13,653.69 L577.16,653.70 L580.19,653.72 L583.22,653.74 L586.25,653.76 L589.29,653.78 L592.32,653.80 L595.35,653.82 L598.38,653.84 L601.41,653.87 L604.44,653.90 L607.48,653.93 L610.51,653.96 L613.54,654.00 L616.57,654.04 L619.60,654.07 L622.63,654.12 L625.67,654.16 L628.70,654.21 L631.73,654.26 L634.76,654.31 L637.79,654.37 L640.82,654.43 L643.86,654.49 L646.89,654.56 L649.92,654.63 L652.95,654.70 L655.98,654.78 L659.01,654.87 L662.05,654.95 L665.08,655.04 L668.11,655.14 L671.14,655.24 L674.17,655.35 L677.20,655.46 L680.24,655.57 L683.27,655.69 L686.30,655.82 L689.33,655.95 L692.36,656.09 L695.39,656.24 L698.43,656.39 L701.46,656.55 L704.49,656.71 L707.52,656.88 L710.55,657.06 L713.58,657.25 L716.62,657.44 L719.65,657.64 L722.68,657.85 L725.71,658.07 L728.74,658.29 L731.77,658.53 L734.81,658.77 L737.84,659.02 L740.87,659.28 L743.90,659.56 L746.93,659.84 L749.96,660.13 L753.00,660.43 L756.03,660.74 L759.06,661.06 L762.09,661.39 L765.12,661.74 L768.15,662.09 L771.19,662.46 L774.22,662.84 L777.25,663.23 L780.28,663.64 L783.31,664.06 L786.34,664.49 L789.38,664.93 L792.41,665.39 L795.44,665.86 L798.47,666.34 L801.50,666.84 L804.53,667.36 L807.57,667.89 L810.60,668.43 L813.63,668.99 L816.66,669.57 L819.69,670.16 L822.72,670.77 L825.76,671.40 L828.79,672.04 L831.82,672.70 L834.85,673.38 L837.88,674.08 L840.91,674.79 L843.95,675.53 L846.98,676.28 L850.01,677.05 L853.04,677.84 L856.07,678.66 L859.10,679.49 L862.14,680.34 L865.17,681.22 L868.20,682.11 L871.23,683.03 L874.26,683.97 L877.29,684.93 L880.33,685.92 L883.36,686.93 L886.39,687.96 L889.42,689.02 L892.45,690.10 L895.48,691.21 L898.52,692.34 L901.55,693.49 L904.58,694.68 L907.61,695.88 L910.64,697.12 L913.67,698.38 L916.71,699.67 L919.74,700.99 L922.77,702.34 L925.80,703.71 L928.83,705.12 L931.86,706.55 L934.90,708.01 L937.93,709.51 L940.96,711.03 L943.99,712.59 L947.02,714.17 L950.05,715.79 L953.09,717.44 L956.12,719.13 L959.15,720.85 L962.18,722.60 L965.21,724.38 L968.24,726.20 L971.28,728.06 L974.31,729.95 L977.34,731.88 L980.37,733.84 L983.40,735.84 L986.43,737.88 L989.47,739.96 L992.50,742.07 L995.53,744.22 L998.56,746.42 L1001.59,748.65 L1004.62,750.92 L1007.66,753.23 L1010.69,755.59 L1013.72,757.98 L1016.75,760.42 L1019.78,762.90 L1022.81,765.43 L1025.85,767.99 L1028.88,770.61 L1031.91,773.26 L1034.94,775.97 L1037.97,778.71 L1041.00,781.51 L1044.04,784.35 L1047.07,787.24 L1050.10,790.17 L1053.13,793.16 L1056.16,796.19 L1059.19,799.28 L1062.23,802.41 L1065.26,805.60 L1068.29,808.83 L1071.32,812.12 L1074.35,815.46 L1077.38,818.85 L1080.42,822.30 L1083.45,825.80 L1086.48,829.35 L1089.51,832.96 L1092.54,836.63 L1095.57,840.35 L1098.61,844.13 L1101.64,847.97 L1104.67,851.86 L1107.70,855.81" fill="none" stroke="#231f20" stroke-width="4.12" stroke-dasharray="8.9 7.8" stroke-dashoffset="0"/>
<path d="M504.40,788.52 L507.43,788.52 L510.46,788.52 L513.49,788.52 L516.53,788.52 L519.56,788.53 L522.59,788.53 L525.62,788.53 L528.65,788.53 L531.68,788.53 L534.72,788.54 L537.75,788.54 L540.78,788.55 L543.81,788.55 L546.84,788.55 L549.87,788.56 L552.91,788.56 L555.94,788.57 L558.97,788.58 L562.00,788.58 L565.03,788.59 L568.06,788.60 L571.10,788.60 L574.13,788.61 L577.16,788.62 L580.19,788.63 L583.22,788.64 L586.25,788.65 L589.29,788.66 L592.32,788.67 L595.35,788.69 L598.38,788.70 L601.41,788.71 L604.44,788.73 L607.48,788.74 L610.51,788.76 L613.54,788.78 L616.57,788.79 L619.60,788.81 L622.63,788.83 L625.67,788.85 L628.70,788.87 L631.73,788.89 L634.76,788.92 L637.79,788.94 L640.82,788.96 L643.86,788.99 L646.89,789.02 L649.92,789.05 L652.95,789.08 L655.98,789.11 L659.01,789.14 L662.05,789.17 L665.08,789.21 L668.11,789.24 L671.14,789.28 L674.17,789.32 L677.20,789.36 L680.24,789.40 L683.27,789.45 L686.30,789.49 L689.33,789.54 L692.36,789.59 L695.39,789.64 L698.43,789.70 L701.46,789.75 L704.49,789.81 L707.52,789.87 L710.55,789.93 L713.58,789.99 L716.62,790.06 L719.65,790.13 L722.68,790.20 L725.71,790.27 L728.74,790.35 L731.77,790.43 L734.81,790.51 L737.84,790.60 L740.87,790.68 L743.90,790.77 L746.93,790.87 L749.96,790.96 L753.00,791.06 L756.03,791.16 L759.06,791.27 L762.09,791.38 L765.12,791.49 L768.15,791.61 L771.19,791.73 L774.22,791.85 L777.25,791.98 L780.28,792.11 L783.31,792.24 L786.34,792.38 L789.38,792.53 L792.41,792.68 L795.44,792.83 L798.47,792.99 L801.50,793.15 L804.53,793.31 L807.57,793.48 L810.60,793.66 L813.63,793.84 L816.66,794.03 L819.69,794.22 L822.72,794.42 L825.76,794.62 L828.79,794.83 L831.82,795.04 L834.85,795.26 L837.88,795.48 L840.91,795.71 L843.95,795.95 L846.98,796.19 L850.01,796.44 L853.04,796.70 L856.07,796.96 L859.10,797.23 L862.14,797.51 L865.17,797.79 L868.20,798.08 L871.23,798.38 L874.26,798.69 L877.29,799.00 L880.33,799.32 L883.36,799.65 L886.39,799.99 L889.42,800.33 L892.45,800.68 L895.48,801.04 L898.52,801.41 L901.55,801.79 L904.58,802.18 L907.61,802.57 L910.64,802.98 L913.67,803.39 L916.71,803.82 L919.74,804.25 L922.77,804.69 L925.80,805.14 L928.83,805.61 L931.86,806.08 L934.90,806.56 L937.93,807.06 L940.96,807.56 L943.99,808.07 L947.02,808.60 L950.05,809.13 L953.09,809.68 L956.12,810.24 L959.15,810.81 L962.18,811.39 L965.21,811.99 L968.24,812.59 L971.28,813.21 L974.31,813.84 L977.34,814.48 L980.37,815.14 L983.40,815.80 L986.43,816.48 L989.47,817.18 L992.50,817.88 L995.53,818.60 L998.56,819.34 L1001.59,820.08 L1004.62,820.84 L1007.66,821.62 L1010.69,822.40 L1013.72,823.21 L1016.75,824.02 L1019.78,824.86 L1022.81,825.70 L1025.85,826.56 L1028.88,827.44 L1031.91,828.33 L1034.94,829.23 L1037.97,830.15 L1041.00,831.09 L1044.04,832.04 L1047.07,833.01 L1050.10,833.99 L1053.13,834.99 L1056.16,836.01 L1059.19,837.04 L1062.23,838.09 L1065.26,839.15 L1068.29,840.23 L1071.32,841.33 L1074.35,842.44 L1077.38,843.57 L1080.42,844.72 L1083.45,845.88 L1086.48,847.06 L1089.51,848.26 L1092.54,849.48 L1095.57,850.71 L1098.61,851.96 L1101.64,853.23 L1104.67,854.51 L1107.70,855.81" fill="none" stroke="#231f20" stroke-width="4.12" stroke-dasharray="8.9 7.8" stroke-dashoffset="0"/>
</g>
<path d="M534.56,664.0 v5.2 M534.56,1164.4 v-4.3 M564.73,664.0 v5.2 M564.73,1164.4 v-4.3 M594.89,664.0 v5.2 M594.89,1164.4 v-4.3 M655.22,664.0 v5.2 M655.22,1164.4 v-4.3 M685.39,664.0 v5.2 M685.39,1164.4 v-4.3 M715.55,664.0 v5.2 M715.55,1164.4 v-4.3 M775.88,664.0 v5.2 M775.88,1164.4 v-4.3 M806.05,664.0 v5.2 M806.05,1164.4 v-4.3 M836.21,664.0 v5.2 M836.21,1164.4 v-4.3 M896.54,664.0 v5.2 M896.54,1164.4 v-4.3 M926.71,664.0 v5.2 M926.71,1164.4 v-4.3 M956.88,664.0 v5.2 M956.88,1164.4 v-4.3 M1017.21,664.0 v5.2 M1017.21,1164.4 v-4.3 M1047.37,664.0 v5.2 M1047.37,1164.4 v-4.3 M1077.53,664.0 v5.2 M1077.53,1164.4 v-4.3 M504.40,664.0 v8.4 M504.40,1164.4 v-7.8 M625.06,664.0 v8.4 M625.06,1164.4 v-7.8 M745.72,664.0 v8.4 M745.72,1164.4 v-7.8 M866.38,664.0 v8.4 M866.38,1164.4 v-7.8 M987.04,664.0 v8.4 M987.04,1164.4 v-7.8 M1107.70,664.0 v8.4 M1107.70,1164.4 v-7.8 M491.8,1159.64 h4.5 M1120.5,1159.64 h-3.9 M491.8,1121.56 h4.5 M1120.5,1121.56 h-3.9 M491.8,1102.52 h4.5 M1120.5,1102.52 h-3.9 M491.8,1083.48 h4.5 M1120.5,1083.48 h-3.9 M491.8,1064.44 h4.5 M1120.5,1064.44 h-3.9 M491.8,1026.36 h4.5 M1120.5,1026.36 h-3.9 M491.8,1007.32 h4.5 M1120.5,1007.32 h-3.9 M491.8,988.28 h4.5 M1120.5,988.28 h-3.9 M491.8,969.24 h4.5 M1120.5,969.24 h-3.9 M491.8,931.16 h4.5 M1120.5,931.16 h-3.9 M491.8,912.12 h4.5 M1120.5,912.12 h-3.9 M491.8,893.08 h4.5 M1120.5,893.08 h-3.9 M491.8,874.04 h4.5 M1120.5,874.04 h-3.9 M491.8,835.96 h4.5 M1120.5,835.96 h-3.9 M491.8,816.92 h4.5 M1120.5,816.92 h-3.9 M491.8,797.88 h4.5 M1120.5,797.88 h-3.9 M491.8,778.84 h4.5 M1120.5,778.84 h-3.9 M491.8,740.76 h4.5 M1120.5,740.76 h-3.9 M491.8,721.72 h4.5 M1120.5,721.72 h-3.9 M491.8,702.68 h4.5 M1120.5,702.68 h-3.9 M491.8,683.64 h4.5 M1120.5,683.64 h-3.9 M491.8,1140.60 h7.2 M1120.5,1140.60 h-7.1 M491.8,1045.40 h7.2 M1120.5,1045.40 h-7.1 M491.8,950.20 h7.2 M1120.5,950.20 h-7.1 M491.8,855.00 h7.2 M1120.5,855.00 h-7.1 M491.8,759.80 h7.2 M1120.5,759.80 h-7.1 M491.8,664.60 h7.2 M1120.5,664.60 h-7.1" stroke="#808285" stroke-width="4.4" fill="none"/>
<path d="M502.6,950.1 H565.9" stroke="#231f20" stroke-width="5.6" stroke-dasharray="10.4 7.2" fill="none"/>
<g transform="scale(1 1.333)">
<line x1="685.50" y1="818.98" x2="895.34" y2="557.93" stroke="#231f20" stroke-width="2.6"/>
<path d="M908.50,541.56 L887.58,556.82 L894.72,558.71 L898.10,565.27 Z" fill="#231f20"/>
<circle cx="504.1" cy="517.78" r="6.0" fill="#3953a4"/>
<circle cx="552.4" cy="517.78" r="6.0" fill="#3953a4"/>
<circle cx="588.6" cy="518.08" r="6.0" fill="#3953a4"/>
<circle cx="648.9" cy="519.35" r="6.0" fill="#3953a4"/>
<circle cx="697.2" cy="522.36" r="6.0" fill="#3953a4"/>
<circle cx="733.4" cy="526.33" r="6.0" fill="#3953a4"/>
<circle cx="805.8" cy="541.11" r="6.0" fill="#3953a4"/>
<circle cx="878.1" cy="571.19" r="6.0" fill="#3953a4"/>
<circle cx="938.5" cy="611.63" r="6.0" fill="#3953a4"/>
<circle cx="998.8" cy="673.37" r="6.0" fill="#3953a4"/>
<circle cx="1059.0" cy="761.44" r="6.0" fill="#3953a4"/>
<circle cx="1107.3" cy="855.81" r="6.0" fill="#3953a4"/>
<circle cx="504.1" cy="653.56" r="6.0" fill="#3953a4"/>
<circle cx="552.4" cy="653.56" r="6.0" fill="#3953a4"/>
<circle cx="588.6" cy="653.56" r="6.0" fill="#3953a4"/>
<circle cx="648.9" cy="654.69" r="6.0" fill="#3953a4"/>
<circle cx="697.2" cy="656.41" r="6.0" fill="#3953a4"/>
<circle cx="733.4" cy="658.66" r="6.0" fill="#3953a4"/>
<circle cx="805.8" cy="667.59" r="6.0" fill="#3953a4"/>
<circle cx="878.1" cy="685.30" r="6.0" fill="#3953a4"/>
<circle cx="938.5" cy="709.90" r="6.0" fill="#3953a4"/>
<circle cx="998.8" cy="746.89" r="6.0" fill="#3953a4"/>
<circle cx="1059.0" cy="799.47" r="6.0" fill="#3953a4"/>
<circle cx="1107.3" cy="855.81" r="6.0" fill="#3953a4"/>
<circle cx="504.1" cy="788.52" r="6.0" fill="#3953a4"/>
<circle cx="552.4" cy="788.52" r="6.0" fill="#3953a4"/>
<circle cx="588.6" cy="788.52" r="6.0" fill="#3953a4"/>
<circle cx="648.9" cy="789.20" r="6.0" fill="#3953a4"/>
<circle cx="697.2" cy="789.80" r="6.0" fill="#3953a4"/>
<circle cx="733.4" cy="790.40" r="6.0" fill="#3953a4"/>
<circle cx="805.8" cy="793.25" r="6.0" fill="#3953a4"/>
<circle cx="878.1" cy="799.17" r="6.0" fill="#3953a4"/>
<circle cx="938.5" cy="807.35" r="6.0" fill="#3953a4"/>
<circle cx="998.8" cy="819.28" r="6.0" fill="#3953a4"/>
<circle cx="1059.0" cy="837.21" r="6.0" fill="#3953a4"/>
<circle cx="1107.3" cy="855.81" r="6.0" fill="#3953a4"/>
</g>
<ellipse cx="554.7" cy="916.5" rx="6.5" ry="9.5" fill="#3953a4"/>
<text x="578.0" y="927" font-size="21.2" text-anchor="start" textLength="45.6">FDM</text>
<text x="578.0" y="958.3" font-size="21.2" text-anchor="start" textLength="180">Perturbation solution</text>
<text x="378.6" y="670.3" font-size="35.5" text-anchor="start" font-weight="bold">c</text>
<text x="478.2" y="1150.6" font-size="29.0" text-anchor="end" >0.000</text>
<text x="478.2" y="1055.4" font-size="29.0" text-anchor="end" >0.005</text>
<text x="478.2" y="960.2" font-size="29.0" text-anchor="end" >0.010</text>
<text x="478.2" y="865.0" font-size="29.0" text-anchor="end" >0.015</text>
<text x="478.2" y="769.8" font-size="29.0" text-anchor="end" >0.020</text>
<text x="478.2" y="674.6" font-size="29.0" text-anchor="end" >0.025</text>
<text x="504.4" y="1197.5" font-size="29.0" text-anchor="middle" >0.0</text>
<text x="625.1" y="1197.5" font-size="29.0" text-anchor="middle" >0.2</text>
<text x="745.7" y="1197.5" font-size="29.0" text-anchor="middle" >0.4</text>
<text x="866.4" y="1197.5" font-size="29.0" text-anchor="middle" >0.6</text>
<text x="987.0" y="1197.5" font-size="29.0" text-anchor="middle" >0.8</text>
<text x="1107.7" y="1197.5" font-size="29.0" text-anchor="middle" >1.0</text>
<text x="799" y="1237.5" font-size="30" text-anchor="middle" >r</text>
<text transform="translate(385.7,914) rotate(-90)" font-size="29" text-anchor="middle" font-style="italic">θ</text>
<text font-size="29.4"><tspan x="893.4" y="709.3">Γ</tspan><tspan x="919.0" y="711.8" stroke="#231f20" stroke-width="0.6">=</tspan><tspan x="944.8" y="709.3">1,</tspan><tspan x="972.8" y="709.3">3,</tspan><tspan x="1000.7" y="709.3">5</tspan></text>
<text font-size="29.4"><tspan x="520.2" y="747.6" font-style="italic" textLength="16.88" lengthAdjust="spacingAndGlyphs">A</tspan><tspan x="543.4" y="750.1" stroke="#231f20" stroke-width="0.6">=</tspan><tspan x="568.1" y="747.6" font-style="italic" textLength="16.88" lengthAdjust="spacingAndGlyphs">B</tspan><tspan x="591.6" y="750.1" stroke="#231f20" stroke-width="0.6">=</tspan><tspan x="616.0" y="747.6" font-style="italic" textLength="23.02" lengthAdjust="spacingAndGlyphs">M</tspan><tspan x="646.3" y="750.1" stroke="#231f20" stroke-width="0.6">=</tspan><tspan x="670.6" y="747.6" font-style="italic" textLength="16.88" lengthAdjust="spacingAndGlyphs">R</tspan><tspan x="693.6" y="750.1" stroke="#231f20" stroke-width="0.6">=</tspan><tspan x="723.5" y="747.6" font-style="italic">δ</tspan><tspan x="746.3" y="750.1" stroke="#231f20" stroke-width="0.6">=</tspan><tspan x="771.6" y="747.6">1</tspan></text>
<text font-size="29.4"><tspan x="519.5" y="782.8">Λ</tspan><tspan x="545.7" y="785.3" stroke="#231f20" stroke-width="0.6">=</tspan><tspan x="569.1" y="782.8">0.2,</tspan><tspan x="619.0" y="782.8">c</tspan><tspan x="638.6" y="785.3" stroke="#231f20" stroke-width="0.6">=</tspan><tspan x="662.5" y="782.8">–</tspan><tspan x="678.1" y="782.8">1</tspan></text>
</svg>
</body>
</html>
